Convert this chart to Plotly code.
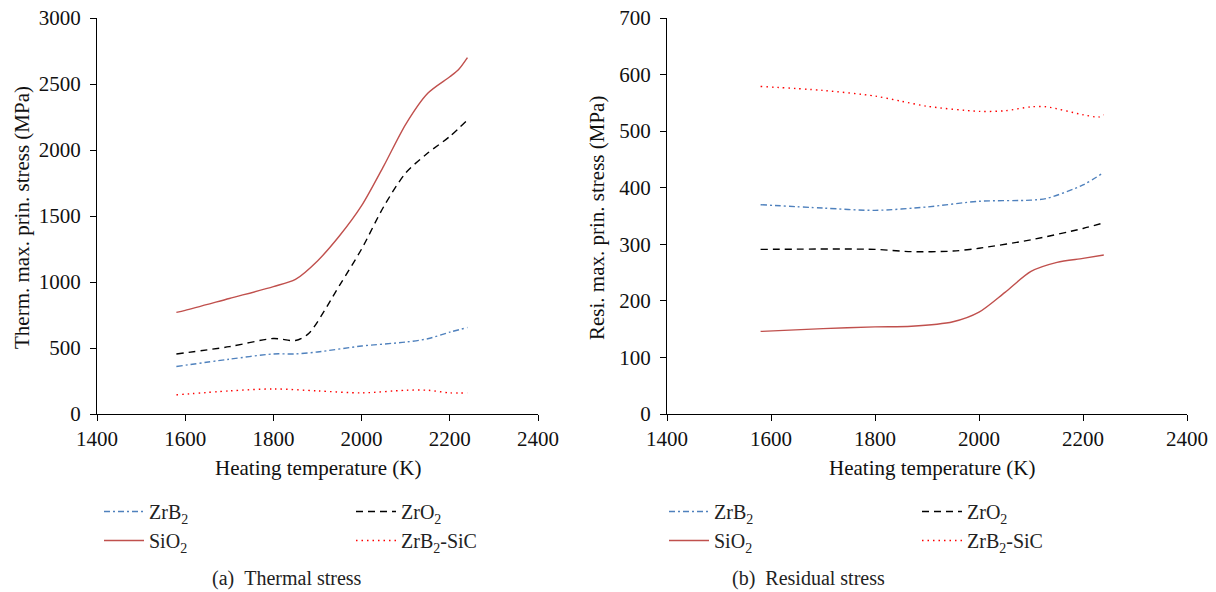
import plotly.graph_objects as go

# ---- data ----
series_names = ["ZrB<sub>2</sub>", "ZrO<sub>2</sub>", "SiO<sub>2</sub>", "ZrB<sub>2</sub>-SiC"]

# (a) Thermal stress
th_zrb2_x = [1580, 1700, 1800, 1850, 1900, 2000, 2100, 2150, 2200, 2240]
th_zrb2_y = [360, 415, 455, 455, 470, 515, 545, 570, 620, 655]

th_zro2_x = [1580, 1700, 1800, 1850, 1880, 1950, 2000, 2050, 2100, 2150, 2200, 2240]
th_zro2_y = [455, 510, 572, 557, 610, 975, 1250, 1570, 1826, 1977, 2103, 2228]

th_sio2_x = [1580, 1600, 1700, 1800, 1850, 1900, 1950, 2000, 2050, 2100, 2150, 2200, 2220, 2240]
th_sio2_y = [770, 785, 875, 965, 1020, 1160, 1350, 1578, 1878, 2195, 2430, 2555, 2610, 2700]

th_sic_x = [1580, 1700, 1800, 1900, 2000, 2100, 2150, 2200, 2240]
th_sic_y = [145, 175, 190, 175, 160, 180, 180, 160, 160]

# (b) Residual stress
re_zrb2_x = [1580, 1700, 1800, 1900, 2000, 2100, 2130, 2200, 2240]
re_zrb2_y = [370, 364, 360, 366, 376, 378, 381, 405, 427]

re_zro2_x = [1580, 1800, 1870, 1950, 2000, 2100, 2200, 2240]
re_zro2_y = [291, 291, 287, 288, 293, 308, 328, 338]

re_sio2_x = [1580, 1700, 1800, 1870, 1950, 2000, 2050, 2100, 2150, 2200, 2240]
re_sio2_y = [146, 151, 154, 155, 163, 180, 215, 252, 268, 275, 281]

re_sic_x = [1580, 1700, 1800, 1850, 1900, 2000, 2050, 2100, 2130, 2200, 2230, 2240]
re_sic_y = [579, 572, 562, 553, 544, 535, 536, 543, 543, 529, 525, 529]

x_ticks = [1400, 1600, 1800, 2000, 2200, 2400]
th_y_ticks = [0, 500, 1000, 1500, 2000, 2500, 3000]
re_y_ticks = [0, 100, 200, 300, 400, 500, 600, 700]

# ---- styles ----
styles = {
    "ZrB2": dict(color="#4f81bd", dash="6px,3px,2px,3px"),
    "ZrO2": dict(color="#000000", dash="7px,5px"),
    "SiO2": dict(color="#c0504d", dash="solid"),
    "SiC": dict(color="#ff0000", dash="1.5px,4px"),
}

SERIF = "Liberation Serif"
W, H = 1216, 592

fig = go.Figure()

def add(x, y, key, name, xa, ya, leg):
    st = styles[key]
    fig.add_trace(go.Scatter(
        x=x, y=y, mode="lines", name=name,
        line=dict(color=st["color"], dash=st["dash"], width=1.4, shape="spline", smoothing=0.8),
        xaxis=xa, yaxis=ya, legend=leg, showlegend=True, hoverinfo="skip"))

# left panel: column 1 legend (ZrB2, SiO2), column 2 legend (ZrO2, ZrB2-SiC)
add(th_zrb2_x, th_zrb2_y, "ZrB2", series_names[0], "x", "y", "legend")
add(th_sio2_x, th_sio2_y, "SiO2", series_names[2], "x", "y", "legend")
add(th_zro2_x, th_zro2_y, "ZrO2", series_names[1], "x", "y", "legend2")
add(th_sic_x, th_sic_y, "SiC", series_names[3], "x", "y", "legend2")

# right panel
add(re_zrb2_x, re_zrb2_y, "ZrB2", series_names[0], "x2", "y2", "legend3")
add(re_sio2_x, re_sio2_y, "SiO2", series_names[2], "x2", "y2", "legend3")
add(re_zro2_x, re_zro2_y, "ZrO2", series_names[1], "x2", "y2", "legend4")
add(re_sic_x, re_sic_y, "SiC", series_names[3], "x2", "y2", "legend4")

def px_x(p):
    return p / W

def px_y(p):
    return 1 - p / H

axis_common = dict(
    showgrid=False, zeroline=False, showline=True, linecolor="black", linewidth=1,
    ticks="outside", ticklen=6, tickcolor="black", tickwidth=1, automargin=False,
    tickfont=dict(family=SERIF, size=21, color="#111111"),
)

y_dom = [px_y(414), px_y(18)]

def leg(xpx):
    return dict(orientation="v", x=px_x(xpx), y=px_y(492), xanchor="left", yanchor="top",
                itemwidth=40,
                font=dict(family=SERIF, size=20, color="#222222"),
                bgcolor="rgba(0,0,0,0)", borderwidth=0, tracegroupgap=0)

fig.update_layout(
    width=W, height=H,
    margin=dict(l=0, r=0, t=0, b=0, autoexpand=False),
    paper_bgcolor="white", plot_bgcolor="white",
    xaxis=dict(domain=[px_x(97), px_x(538)], range=[1400, 2400], tickvals=x_ticks,
               anchor="y", **axis_common),
    yaxis=dict(domain=y_dom, range=[0, 3000], tickvals=th_y_ticks, anchor="x",
               ticklabelstandoff=5, **axis_common),
    xaxis2=dict(domain=[px_x(667), px_x(1187)], range=[1400, 2400], tickvals=x_ticks,
                anchor="y2", **axis_common),
    yaxis2=dict(domain=y_dom, range=[0, 700], tickvals=re_y_ticks, anchor="x2",
                ticklabelstandoff=5, **axis_common),
    legend=leg(99),
    legend2=leg(351),
    legend3=leg(664),
    legend4=leg(917),
    showlegend=True,
)

ann_font = dict(family=SERIF, size=21, color="#111111")
cap_font = dict(family=SERIF, size=20, color="#222222")
annotations = [
    dict(text="Therm. max. prin. stress (MPa)", x=px_x(22), y=px_y(218), textangle=-90,
         font=ann_font),
    dict(text="Resi. max. prin. stress (MPa)", x=px_x(597), y=px_y(218), textangle=-90,
         font=ann_font),
    dict(text="Heating temperature (K)", x=px_x(318), y=px_y(468), font=ann_font),
    dict(text="Heating temperature (K)", x=px_x(932), y=px_y(468), font=ann_font),
    dict(text="(a)\u00a0\u00a0Thermal stress", x=px_x(287), y=px_y(578), font=cap_font),
    dict(text="(b)\u00a0\u00a0Residual stress", x=px_x(808), y=px_y(578), font=cap_font),
]
for a in annotations:
    a.update(xref="paper", yref="paper", showarrow=False, xanchor="center", yanchor="middle")
fig.update_layout(annotations=annotations)

fig.write_html("out.html")
